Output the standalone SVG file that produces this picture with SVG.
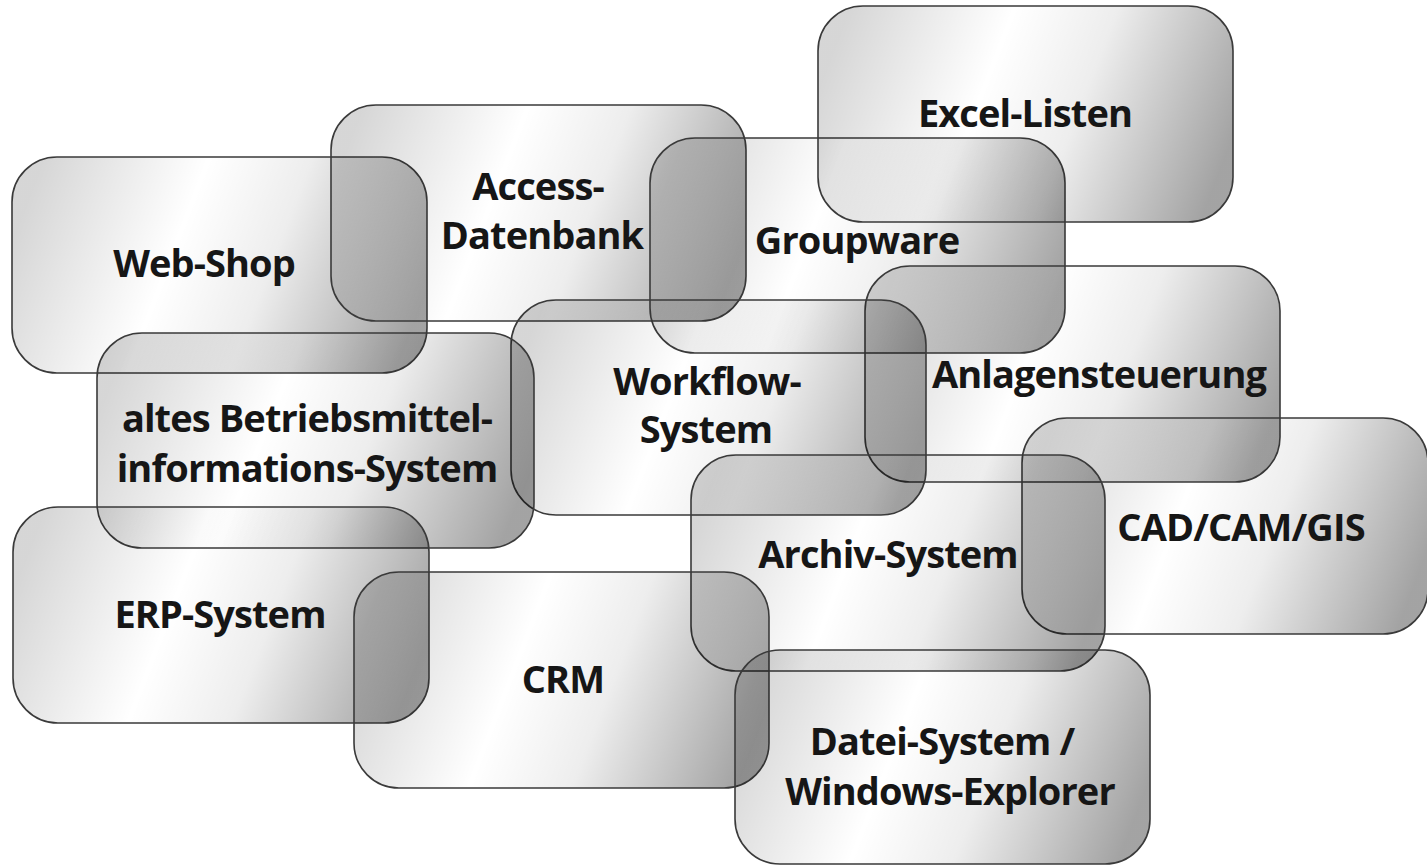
<svg xmlns="http://www.w3.org/2000/svg" width="1427" height="866" viewBox="0 0 1427 866">
<defs>
<linearGradient id="g" x1="0" y1="0.4" x2="1" y2="0.6">
<stop offset="0" stop-color="#000" stop-opacity="0.16"/>
<stop offset="0.38" stop-color="#000" stop-opacity="0"/>
<stop offset="0.62" stop-color="#000" stop-opacity="0.07"/>
<stop offset="1" stop-color="#000" stop-opacity="0.36"/>
</linearGradient>
<style>
.b{fill:url(#g);stroke:#3a3a3a;stroke-width:1.6}
.t{font-family:"Open Sans","Noto Sans","DejaVu Sans",sans-serif;font-weight:700;font-size:38px;letter-spacing:-0.9px;fill:#161616;text-anchor:middle}
</style>
</defs>
<rect width="1427" height="866" fill="#fff"/>
<g id="web-shop"><rect class="b" x="12" y="157" width="415" height="216" rx="45"/><text class="t" x="204" y="277">Web-Shop</text></g>
<g id="access"><rect class="b" x="331" y="105" width="415" height="216" rx="45"/><text class="t" x="538" y="200">Access-</text><text class="t" x="542" y="249">Datenbank</text></g>
<g id="groupware"><rect class="b" x="650" y="138" width="415" height="215" rx="45"/><text class="t" x="857" y="254">Groupware</text></g>
<g id="excel"><rect class="b" x="818" y="6" width="415" height="216" rx="45"/><text class="t" x="1025" y="127">Excel-Listen</text></g>
<g id="anlagen"><rect class="b" x="865" y="266" width="415" height="216" rx="45"/><text class="t" x="1099" y="388">Anlagensteuerung</text></g>
<g id="workflow"><rect class="b" x="511" y="300" width="415" height="215" rx="45"/><text class="t" x="707" y="395">Workflow-</text><text class="t" x="706" y="443">System</text></g>
<g id="altes"><rect class="b" x="97" y="333" width="437" height="215" rx="45"/><text class="t" x="307" y="432">altes Betriebsmittel-</text><text class="t" x="307" y="482">informations-System</text></g>
<g id="cad"><rect class="b" x="1022" y="418" width="406" height="216" rx="45"/><text class="t" x="1241" y="541">CAD/CAM/GIS</text></g>
<g id="archiv"><rect class="b" x="691" y="455" width="414" height="216" rx="45"/><text class="t" x="888" y="568">Archiv-System</text></g>
<g id="erp"><rect class="b" x="13" y="507" width="416" height="216" rx="45"/><text class="t" x="220" y="628">ERP-System</text></g>
<g id="crm"><rect class="b" x="354" y="572" width="415" height="216" rx="45"/><text class="t" x="563" y="693">CRM</text></g>
<g id="datei"><rect class="b" x="735" y="650" width="415" height="214" rx="45"/><text class="t" x="942" y="755">Datei-System /</text><text class="t" x="950" y="805">Windows-Explorer</text></g>
<g id="connectors"/>
</svg>
